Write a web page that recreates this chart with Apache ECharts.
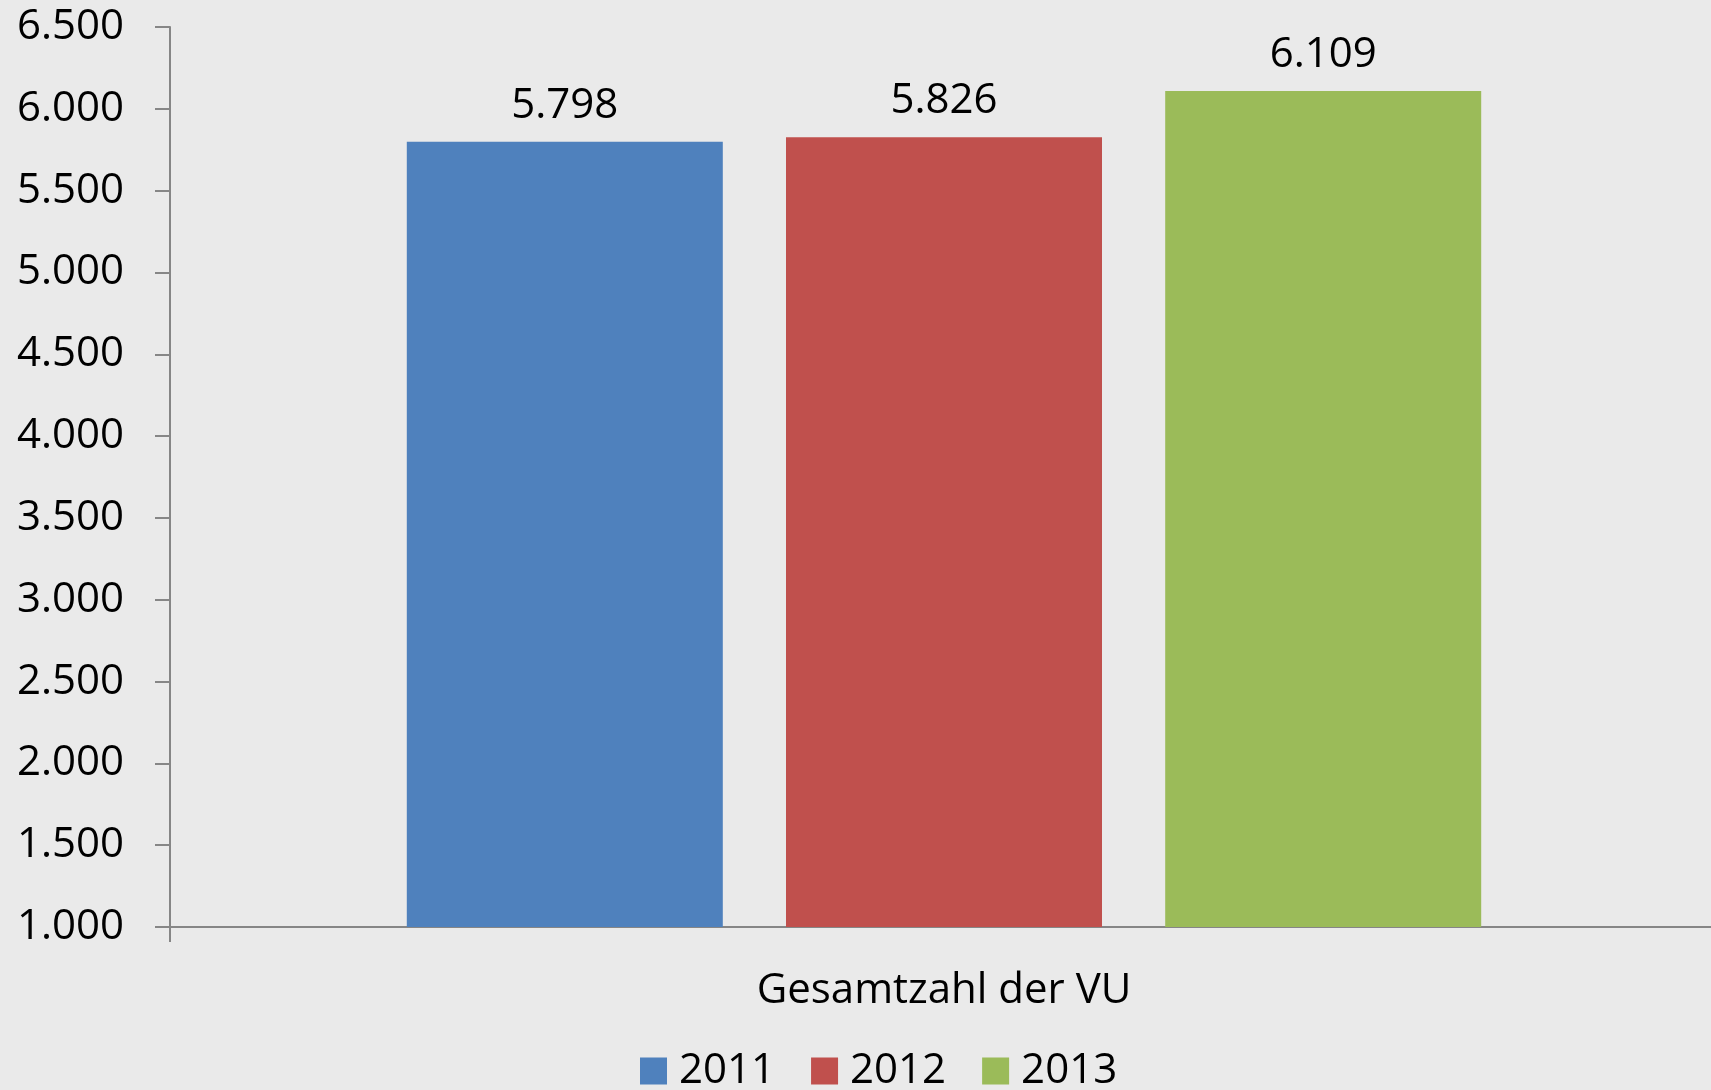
<!DOCTYPE html>
<html>
<head>
<meta charset="utf-8">
<script src="https://cdn.jsdelivr.net/npm/echarts@6/dist/echarts.min.js"></script>
<style>
	html, body {
		margin: 0;
		padding: 0;
		background: #eaeaea;
	}
	#myChart {
		width: 1711px;
		height: 1090px;
	}
</style>
</head>
<body>
<div id="myChart"></div>
<script>
// Daten
var categories = ["Gesamtzahl der VU"];
var years = ["2011", "2012", "2013"];
var values2011 = [5798];
var values2012 = [5826];
var values2013 = [6109];
var colors = ["#4f81bd", "#c0504d", "#9bbb59"];

var FONT = "Open Sans";

// 5798 -> "5.798"
function fmt(v) {
	return String(v).replace(/\B(?=(\d{3})+(?!\d))/g, ".");
}

var seriesData = [values2011, values2012, values2013];

var myChart = echarts.init(document.getElementById("myChart"));
var option = {
	backgroundColor: "#eaeaea",
	animation: false,
	color: colors,
	textStyle: {
		fontFamily: FONT,
		color: "#000",
	},
	grid: {
		left: 170,
		width: 1548,
		top: 27,
		bottom: 163,
		containLabel: false,
		outerBoundsMode: "none",
	},
	legend: {
		data: years,
		left: 635,
		top: 1045,
		itemWidth: 27,
		itemHeight: 27,
		itemGap: 36,
		icon: "rect",
		textStyle: {
			fontFamily: FONT,
			fontSize: 42,
			color: "#000",
			padding: [0, 0, 0, 7],
		},
	},
	xAxis: {
		type: "category",
		data: categories,
		axisLine: {
			lineStyle: { color: "#868686", width: 2 },
		},
		axisTick: {
			show: true,
			length: 15,
			lineStyle: { color: "#868686", width: 2 },
		},
		axisLabel: {
			margin: 43,
			fontFamily: FONT,
			fontSize: 42,
			color: "#000",
		},
	},
	yAxis: {
		type: "value",
		min: 1000,
		max: 6500,
		interval: 500,
		splitLine: { show: false },
		axisLine: {
			show: true,
			lineStyle: { color: "#868686", width: 2 },
		},
		axisTick: {
			show: true,
			length: 15,
			lineStyle: { color: "#868686", width: 2 },
		},
		axisLabel: {
			margin: 46,
			fontFamily: FONT,
			fontSize: 42,
			color: "#000",
			formatter: function (v) {
				return fmt(v);
			},
		},
	},
	series: years.map(function (y, i) {
		return {
			name: y,
			type: "bar",
			data: seriesData[i],
			barWidth: 316,
			barGap: "20%",
			label: {
				show: true,
				position: "top",
				distance: 15,
				fontFamily: FONT,
				fontSize: 42,
				color: "#000",
				formatter: function (p) {
					return fmt(p.value);
				},
			},
		};
	}),
};
myChart.setOption(option);
</script>
</body>
</html>
